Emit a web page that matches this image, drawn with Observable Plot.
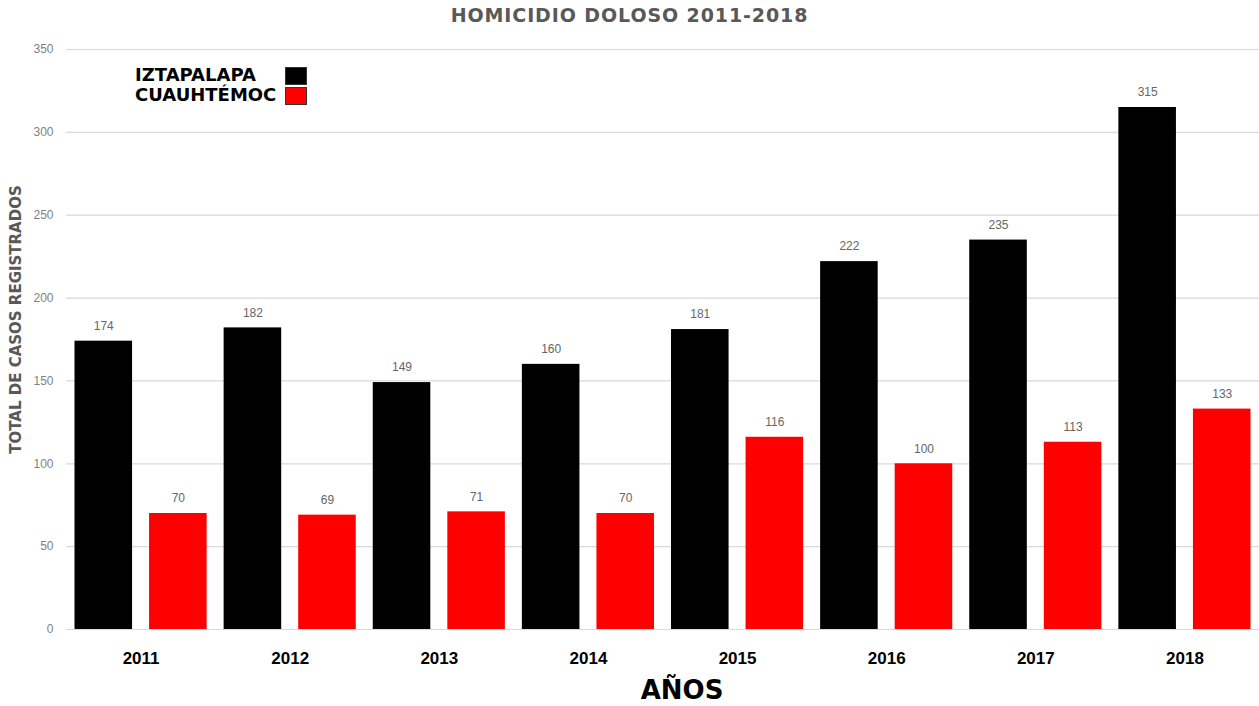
<!DOCTYPE html>
<html>
<head>
<meta charset="utf-8">
<script src="https://cdn.jsdelivr.net/npm/d3@7"></script>
<script src="https://cdn.jsdelivr.net/npm/@observablehq/plot@0.6"></script>
<style>
  html, body { margin: 0; padding: 0; background: #fff; }
  #wrap { position: relative; width: 1259px; height: 706px; overflow: hidden; }
  #title { height: 32px; line-height: 30px; text-align: center; font-family: "DejaVu Sans", sans-serif; font-weight: bold; font-size: 19px; letter-spacing: 0.9px; color: #595959; white-space: pre; }
  #legend { position: absolute; left: 135px; top: 64px; font-family: "DejaVu Sans", sans-serif; font-weight: bold; font-size: 18px; color: #000; }
  .item { position: relative; height: 20px; line-height: 22px; }
  .sw { position: absolute; left: 150px; top: 3px; width: 20px; height: 16px; border: 1px solid #333; }
  svg { display: block; }
</style>
</head>
<body>
<div id="wrap">
  <div id="title">HOMICIDIO DOLOSO 2011-2018</div>
  <div id="chart"></div>
  <div id="legend"></div>
</div>
<script>
const years = ["2011", "2012", "2013", "2014", "2015", "2016", "2017", "2018"];
const series = ["IZTAPALAPA", "CUAUHTÉMOC"];
const colors = ["#000000", "#ff0000"];
const iztapalapa = [174, 182, 149, 160, 181, 222, 235, 315];
const cuauhtemoc = [70, 69, 71, 70, 116, 100, 113, 133];
const yTicks = [0, 50, 100, 150, 200, 250, 300, 350];
const yLabel = "TOTAL DE CASOS REGISTRADOS";
const xLabel = "AÑOS";

const values = [iztapalapa, cuauhtemoc];
const rows = years.flatMap((yr, i) => series.map((s, j) => ({
  year: yr, serie: s, key: yr + "|" + s, value: values[j][i]
})));
const keys = rows.map(d => d.key);
const firstKeys = years.map(yr => yr + "|" + series[0]);

const width = 1259, height = 674;
const marginLeft = 66, marginRight = 0, marginTop = 17, marginBottom = 77;
const xOpts = { type: "band", domain: keys, range: [marginLeft, width - marginRight], paddingInner: 0.228, paddingOuter: 0.114, round: false };
const xs = Plot.scale({ x: xOpts });
const half = xs.step / 2;

const chart = Plot.plot({
  width, height, marginLeft, marginRight, marginTop, marginBottom,
  style: { fontFamily: "'Liberation Sans', Arial, sans-serif", background: "#fff" },
  x: { domain: keys, paddingInner: 0.228, paddingOuter: 0.114, round: false, axis: null },
  y: { domain: [0, 350], axis: null },
  color: { domain: series, range: colors },
  marks: [
    Plot.gridY(yTicks, { stroke: "#d9d9d9", strokeOpacity: 1, strokeWidth: 1.2 }),
    Plot.axisY(yTicks, { tickSize: 0, tickPadding: 13, fontSize: 12, fill: "#7f7f7f", label: null }),
    Plot.barY(rows, { x: "key", y: "value", fill: "serie" }),
    Plot.text(rows, { x: "key", y: "value", text: d => String(d.value), dy: -15, fontSize: 12, fill: "#666666" }),
    Plot.axisX(firstKeys, { tickSize: 0, tickPadding: 22, dx: half, tickFormat: k => k.split("|")[0], fontSize: 17, fontWeight: "bold", fill: "#000", label: null }),
    Plot.text([xLabel], { frameAnchor: "bottom", dy: 69, dx: 19, fontSize: 26, fontWeight: "bold", fontFamily: "'DejaVu Sans', sans-serif", fill: "#000" }),
    Plot.text([yLabel], { frameAnchor: "left", textAnchor: "middle", rotate: -90, dx: -50, dy: -20, fontSize: 15, fontWeight: "bold", fontFamily: "'DejaVu Sans', sans-serif", fill: "#595959" })
  ]
});
document.getElementById("chart").appendChild(chart);

const legend = document.getElementById("legend");
series.forEach((s, i) => {
  const it = document.createElement("div");
  it.className = "item";
  it.textContent = s;
  const sw = document.createElement("span");
  sw.className = "sw";
  sw.style.background = colors[i];
  it.appendChild(sw);
  legend.appendChild(it);
});
</script>
</body>
</html>
